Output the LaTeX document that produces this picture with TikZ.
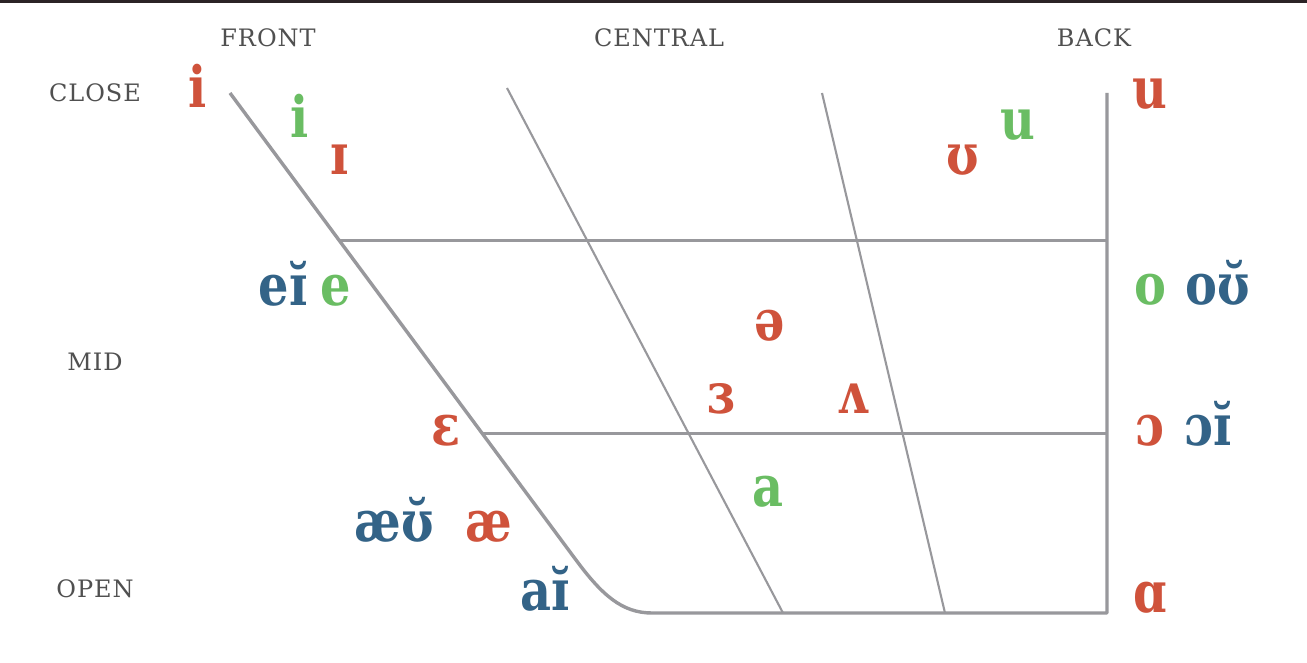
\documentclass[tikz,border=0pt]{standalone}
\usepackage{fontspec}
\setmainfont{DejaVu Serif}
\newfontfamily\vowelfont[FakeStretch=0.84]{DejaVu Serif Bold}
\newfontfamily\labelfont[LetterSpace=4]{DejaVu Serif}
\definecolor{vred}{RGB}{207,82,59}
\definecolor{vgreen}{RGB}{106,189,99}
\definecolor{vblue}{RGB}{51,99,135}
\definecolor{lgray}{RGB}{152,152,156}
\definecolor{tgray}{RGB}{80,80,80}
\definecolor{topbar}{RGB}{43,35,38}
\tikzset{
  axislbl/.style={font=\labelfont\fontsize{12}{14}\selectfont, text=tgray, inner sep=0},
  vw/.style={font=\vowelfont\fontsize{28.5}{30}\selectfont, inner sep=0, anchor=base},
  vr/.style={vw, text=vred},
  vg/.style={vw, text=vgreen},
  vb/.style={vw, text=vblue},
  thick line/.style={draw=lgray, line width=1.7pt, line join=round},
  mid line/.style={draw=lgray, line width=1.5pt},
  thin line/.style={draw=lgray, line width=1.05pt}
}
\begin{document}
\begin{tikzpicture}[x=0.5pt, y=-0.5pt]
\useasboundingbox (0,0) rectangle (1307,663);
\fill[white] (0,0) rectangle (1307,663);
\fill[topbar] (0,0) rectangle (1307,3);
% frame coordinates
\coordinate (fc) at (230,93);
\coordinate (fm) at (339.5,241);
\coordinate (fo) at (481.5,433);
\coordinate (bend) at (576,560);
\coordinate (bot) at (652,613);
\coordinate (bb) at (1107,613);
\coordinate (bc) at (1107,93);
\coordinate (bm) at (1107,241);
\coordinate (bo) at (1107,433);
\coordinate (c1t) at (507,88);
\coordinate (c1b) at (783,613);
\coordinate (c2t) at (822,93);
\coordinate (c2b) at (945,613);
% axes labels
\node[axislbl] (front) at (268,38) {FRONT};
\node[axislbl] (central) at (659,38) {CENTRAL};
\node[axislbl] (back) at (1094,38) {BACK};
\node[axislbl] (close) at (95,93) {CLOSE};
\node[axislbl] (mid) at (95,362) {MID};
\node[axislbl] (open) at (95,589) {OPEN};
% chart lines
\draw[thick line] (fc) -- (bend) .. controls (602,595) and (622,613) .. (bot) -- (bb) -- (bc);
\draw[mid line] (fm) -- (bm);
\draw[mid line] (fo) -- (bo);
\draw[thin line] (c1t) -- (c1b);
\draw[thin line] (c2t) -- (c2b);
% vowels
\node[vr] (i1) at (198,108) {i};
\node[vg] (i2) at (300,138) {i};
\node[vr] (I) at (340,175) {ɪ};
\node[vr] (U) at (963,175) {ʊ};
\node[vg] (u2) at (1018,140) {u};
\node[vr] (u1) at (1150,109) {u};
\node[vb] (eI) at (283,306) {eɪ̆};
\node[vg] (e) at (336,306) {e};
\node[vr] (E) at (446,445) {ɛ};
\node[vg] (o) at (1150,305) {o};
\node[vb] (oU) at (1218,305) {oʊ̆};
\node[vr] (O) at (1150,445) {ɔ};
\node[vb] (OI) at (1208,445) {ɔɪ̆};
\node[vr] (schwa) at (770,341) {ə};
\node[vr] (er) at (721,413) {ɜ};
\node[vr] (V) at (853,414) {ʌ};
\node[vg] (a) at (768,506) {a};
\node[vb] (aeU) at (394,541) {æʊ̆};
\node[vr] (ae) at (489,541) {æ};
\node[vb] (aI) at (545,610) {aɪ̆};
\node[vr] (A) at (1150,612) {ɑ};
\end{tikzpicture}
\end{document}
